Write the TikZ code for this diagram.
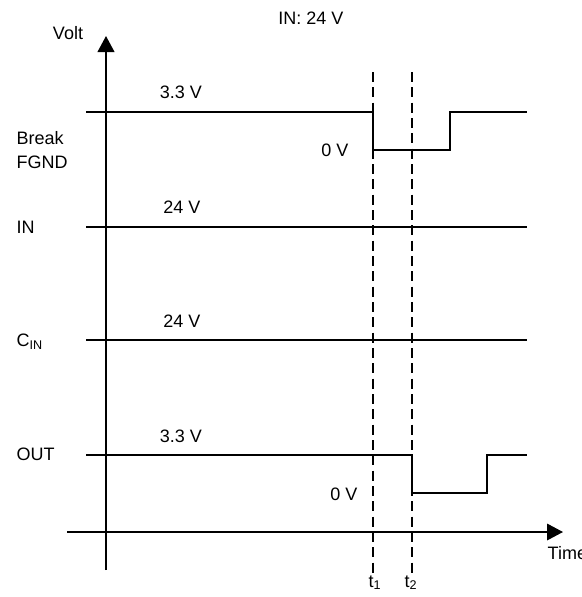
\documentclass[tikz,border=0pt]{standalone}
\usepackage{fontspec}
\setmainfont{Liberation Sans}
\usetikzlibrary{arrows.meta}

\tikzset{
  signal/.style={line width=1.8pt},
  marker/.style={line width=1.4pt, dash pattern=on 7.5pt off 4pt},
  axistip/.style={-{Triangle[length=12pt, width=12.5pt]}},
}

\begin{document}
\begin{tikzpicture}[x=0.75pt, y=-0.75pt, font=\fontsize{13.5}{18}\selectfont]
  \useasboundingbox (0,0) rectangle (582,597);

  % axes
  \draw[line width=1.4pt, axistip] (106,570) -- (106,36);
  \draw[line width=1pt, axistip] (67,532) -- (563,532);
  \node at (68,33) {Volt};
  \node[anchor=west] at (543,553) {Time};
  \node at (311,18) {IN: 24 V};

  % time markers
  \draw[marker] (373,72) -- (373,575);
  \draw[marker] (412,72) -- (412,575);
  \node[anchor=base] at (375,587) {t\textsubscript{1}};
  \node[anchor=base] at (411,587) {t\textsubscript{2}};

  % Break FGND
  \draw[signal] (86,112) -- (373,112) -- (373,150) -- (450,150) -- (450,112) -- (527,112);
  \node[anchor=west, align=left] at (12,150) {Break\\FGND};
  \node at (181,92) {3.3 V};
  \node at (335,150) {0 V};

  % IN
  \draw[signal] (86,227) -- (527,227);
  \node[anchor=west] at (12,227) {IN};
  \node at (182,207) {24 V};

  % C_IN
  \draw[signal] (86,340) -- (527,340);
  \node[anchor=west] at (12,342) {C\textsubscript{IN}};
  \node at (182,321) {24 V};

  % OUT
  \draw[signal] (86,455) -- (412,455) -- (412,493) -- (487,493) -- (487,455) -- (527,455);
  \node[anchor=west] at (12,454) {OUT};
  \node at (181,436) {3.3 V};
  \node at (344,494) {0 V};

\end{tikzpicture}
\end{document}
